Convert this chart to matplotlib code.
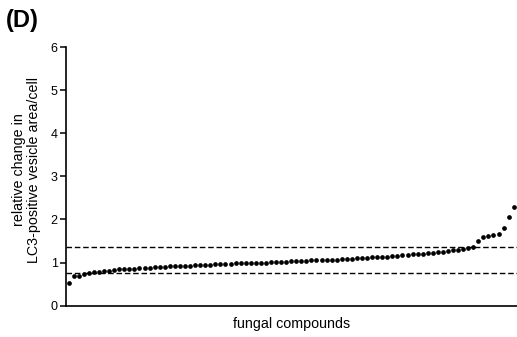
import matplotlib
matplotlib.use("Agg")
import matplotlib.pyplot as plt

plt.rcParams['font.family'] = ['Liberation Sans', 'DejaVu Sans']

values = [0.52, 0.68, 0.70, 0.74, 0.75, 0.77, 0.78, 0.80, 0.81, 0.83,
          0.84, 0.85, 0.85, 0.86, 0.87, 0.87, 0.88, 0.89, 0.89, 0.90,
          0.91, 0.91, 0.92, 0.93, 0.93, 0.94, 0.94, 0.95, 0.95, 0.96,
          0.96, 0.97, 0.97, 0.98, 0.98, 0.99, 0.99, 0.99, 1.00, 1.00,
          1.01, 1.01, 1.02, 1.02, 1.03, 1.03, 1.04, 1.04, 1.05, 1.05,
          1.06, 1.06, 1.07, 1.07, 1.08, 1.09, 1.09, 1.10, 1.11, 1.11,
          1.12, 1.13, 1.14, 1.14, 1.15, 1.16, 1.17, 1.18, 1.19,
          1.20, 1.21, 1.22, 1.23, 1.24, 1.25, 1.26, 1.29, 1.30, 1.32,
          1.33, 1.35, 1.49, 1.59, 1.62, 1.64, 1.66, 1.80, 2.05, 2.29]
thresholds = [1.35, 0.75]
yticks = [0, 1, 2, 3, 4, 5, 6]

fig = plt.figure(figsize=(5.17, 3.37), dpi=100)
ax = fig.add_axes([0.1277, 0.0929, 0.8723, 0.7676])

x = list(range(len(values)))
ax.plot(x, values, 'o', color='black', markersize=3.4, markeredgewidth=0, zorder=3)
for t in thresholds:
    ax.axhline(t, color='black', linewidth=1.0, linestyle=(0, (4, 2)), zorder=2)

ax.set_xlim(-0.53, len(values) - 1 + 0.65)
ax.set_ylim(0, 6)
ax.set_yticks(yticks)
ax.set_xticks([])
ax.tick_params(axis='y', labelsize=9, length=4.5, width=1.1, direction='out', pad=1.5)
for s in ['top', 'right']:
    ax.spines[s].set_visible(False)
for s in ['left', 'bottom']:
    ax.spines[s].set_linewidth(1.2)

ax.set_ylabel('relative change in\nLC3-positive vesicle area/cell', fontsize=10.3,
              linespacing=1.1)
ax.yaxis.set_label_coords(-0.056, 0.525)
ax.set_xlabel('fungal compounds', fontsize=10.3, labelpad=8)

fig.text(0.012, 0.972, '(D)', fontsize=17, fontweight='bold', va='top', ha='left')

fig.savefig('out.png', dpi=100)
